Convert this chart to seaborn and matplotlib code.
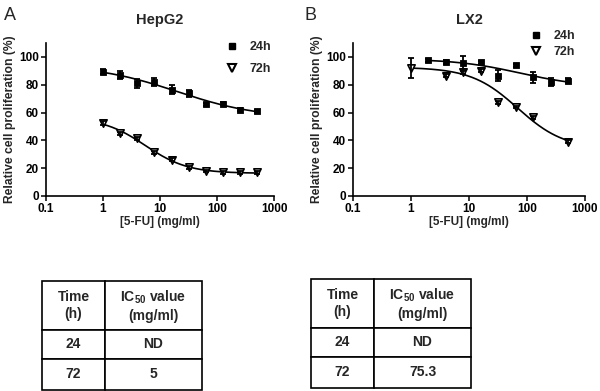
import numpy as np
import pandas as pd
import matplotlib
matplotlib.use("Agg")
import matplotlib.pyplot as plt
import seaborn as sns
from matplotlib.lines import Line2D

# ---------------- data ----------------
hep_x = [1, 2, 4, 8, 16, 32, 64, 128, 256, 512]
hep_24 = [89.5, 87, 81, 82, 76.5, 74, 66, 66.5, 62, 61]
hep_24_err = [2, 3, 3, 3, 3, 2.5, 1, 1, 1, 1]
hep_72 = [52.5, 45, 41.5, 31.5, 26, 20.5, 18, 17, 17, 17]
hep_72_err = [1.5, 1, 1, 1, 1, 1, 1, 1, 1, 1]

lx_x24 = [2, 4, 8, 16, 32, 64, 128, 256, 512]
lx_24 = [97.5, 96.5, 95.5, 96, 86.5, 94, 85.5, 82, 83]
lx_24_err = [1, 1.5, 5, 1, 4, 1, 4, 3, 2]
lx_x72 = [1, 4, 8, 16, 32, 64, 128, 512]
lx_72 = [92, 86.5, 89, 90, 67.5, 64, 56.5, 39]
lx_72_err = [7.5, 1, 1, 1, 1, 1, 1, 1]

titles = ["HepG2", "LX2"]
panel_letters = ["A", "B"]
series_labels = ["24h", "72h"]
xtick_vals = [0.1, 1, 10, 100, 1000]
xtick_labels = ["0.1", "1", "10", "100", "1000"]
ytick_vals = [0, 20, 40, 60, 80, 100]

table_header = ["Time\n(h)", "IC$_{\\mathbf{50}}$ value\n(mg/ml)"]
table_times = ["24", "72"]
ic50_hep = ["ND", "5"]
ic50_lx = ["ND", "75.3"]


def fit_4pl(x, y):
    """Least-squares four-parameter logistic fit (grid over EC50/Hill, linear for top/bottom)."""
    x = np.asarray(x, float)
    y = np.asarray(y, float)
    best = None
    for lec in np.linspace(-1, 4, 251):
        for h in np.linspace(0.3, 3.0, 136):
            s = 1.0 / (1.0 + (x / 10 ** lec) ** h)
            A = np.column_stack([1 - s, s])
            coef, *_ = np.linalg.lstsq(A, y, rcond=None)
            r = np.sum((A @ coef - y) ** 2)
            if best is None or r < best[0]:
                best = (r, coef[0], coef[1], lec, h)
    _, bot, top, lec, h = best
    xs = np.logspace(np.log10(x.min()), np.log10(x.max()), 200)
    ys = bot + (top - bot) / (1 + (xs / 10 ** lec) ** h)
    return xs, ys


# ---------------- style ----------------
sns.set_theme(style="ticks")
plt.rcParams["font.family"] = ["Liberation Sans", "DejaVu Sans"]
plt.rcParams["mathtext.fontset"] = "custom"
plt.rcParams["mathtext.bf"] = "Liberation Sans:bold"
plt.rcParams["mathtext.rm"] = "Liberation Sans:bold"

fig = plt.figure(figsize=(6.0, 3.91), dpi=100)

axes_pos = [[46 / 600, 1 - 196 / 391, 228 / 600, 153 / 391],
            [353 / 600, 1 - 196 / 391, 232 / 600, 153 / 391]]

panels = [
    (hep_x, hep_24, hep_24_err, hep_x, hep_72, hep_72_err),
    (lx_x24, lx_24, lx_24_err, lx_x72, lx_72, lx_72_err),
]

legend_anchor = [(0.765, 1.045), (0.74, 1.115)]
legend_spacing = [0.8, 0.3]

for i, (xa, ya, ea, xb, yb, eb) in enumerate(panels):
    ax = fig.add_axes(axes_pos[i])
    ax.set_xscale("log")

    # fitted curves
    for xx, yy in ((xa, ya), (xb, yb)):
        xs, ys = fit_4pl(xx, yy)
        sns.lineplot(x=xs, y=ys, ax=ax, color="black", lw=1.2, zorder=2)

    # markers
    dfa = pd.DataFrame({"x": xa, "y": ya})
    dfb = pd.DataFrame({"x": xb, "y": yb})
    sns.scatterplot(data=dfa, x="x", y="y", ax=ax, marker="s", s=20,
                    color="black", edgecolor="black", linewidth=0.6, zorder=3)
    sns.scatterplot(data=dfb, x="x", y="y", ax=ax, marker="v", s=28,
                    facecolor="white", edgecolor="black", linewidth=1.2, zorder=3)

    # error bars
    ax.errorbar(xa, ya, yerr=ea, fmt="none", ecolor="black", elinewidth=1.3,
                capsize=2.3, capthick=1.3, zorder=4)
    ax.errorbar(xb, yb, yerr=eb, fmt="none", ecolor="black", elinewidth=1.3,
                capsize=2.3, capthick=1.3, zorder=4)

    ax.set_xlim(0.1, 1000)
    ax.set_ylim(0, 110)
    ax.set_xticks(xtick_vals)
    ax.set_xticklabels(xtick_labels)
    ax.xaxis.set_minor_locator(matplotlib.ticker.NullLocator())
    ax.set_yticks(ytick_vals)
    ax.tick_params(axis="both", which="major", length=3.5, width=1.1,
                   labelsize=8.5, pad=1.5, colors="black")
    for lab in ax.get_xticklabels() + ax.get_yticklabels():
        lab.set_fontweight("bold")
    for sp in ("top", "right"):
        ax.spines[sp].set_visible(False)
    for sp in ("left", "bottom"):
        ax.spines[sp].set_linewidth(1.2)
        ax.spines[sp].set_color("black")

    ax.set_xlabel("[5-FU] (mg/ml)", fontsize=8.5, fontweight="bold", labelpad=1)
    ax.set_ylabel("Relative cell proliferation (%)", fontsize=8.7,
                  fontweight="bold", labelpad=2)
    ax.set_title(titles[i], fontsize=10.5, fontweight="bold", pad=14)

    handles = [
        Line2D([], [], marker="s", ls="none", color="black", markersize=4.5),
        Line2D([], [], marker="v", ls="none", markerfacecolor="white",
               markeredgecolor="black", markeredgewidth=1.5, markersize=5.5),
    ]
    ax.legend(handles, series_labels, loc="upper left",
              bbox_to_anchor=legend_anchor[i], frameon=False,
              handlelength=1.0, handletextpad=0.9,
              labelspacing=legend_spacing[i], borderaxespad=0,
              prop={"weight": "bold", "size": 9})

    fig.text([4 / 600, 305 / 600][i], 1 - 16 / 391, panel_letters[i],
             fontsize=13, va="center", ha="left")

# ---------------- tables ----------------
table_boxes = [[42 / 600, 1 - 390 / 391, 160 / 600, 109 / 391],
               [311 / 600, 1 - 388 / 391, 160 / 600, 109 / 391]]
ic50_values = [ic50_hep, ic50_lx]
row_heights = [49, 29, 31]
col_widths = [63, 97]

for i in range(2):
    tax = fig.add_axes(table_boxes[i])
    tax.axis("off")
    cells = [table_header] + [[t, v] for t, v in zip(table_times, ic50_values[i])]
    tbl = tax.table(cellText=cells, cellLoc="center", bbox=[0, 0, 1, 1])
    tbl.auto_set_font_size(False)
    for (r, c), cell in tbl.get_celld().items():
        cell.set_height(row_heights[r])
        cell.set_width(col_widths[c])
        cell.set_linewidth(1.2)
        cell.set_edgecolor("black")
        cell.get_text().set_fontsize(10)
        cell.get_text().set_fontweight("bold")
        cell.get_text().set_linespacing(1.3)

fig.savefig("out.png", dpi=100)
